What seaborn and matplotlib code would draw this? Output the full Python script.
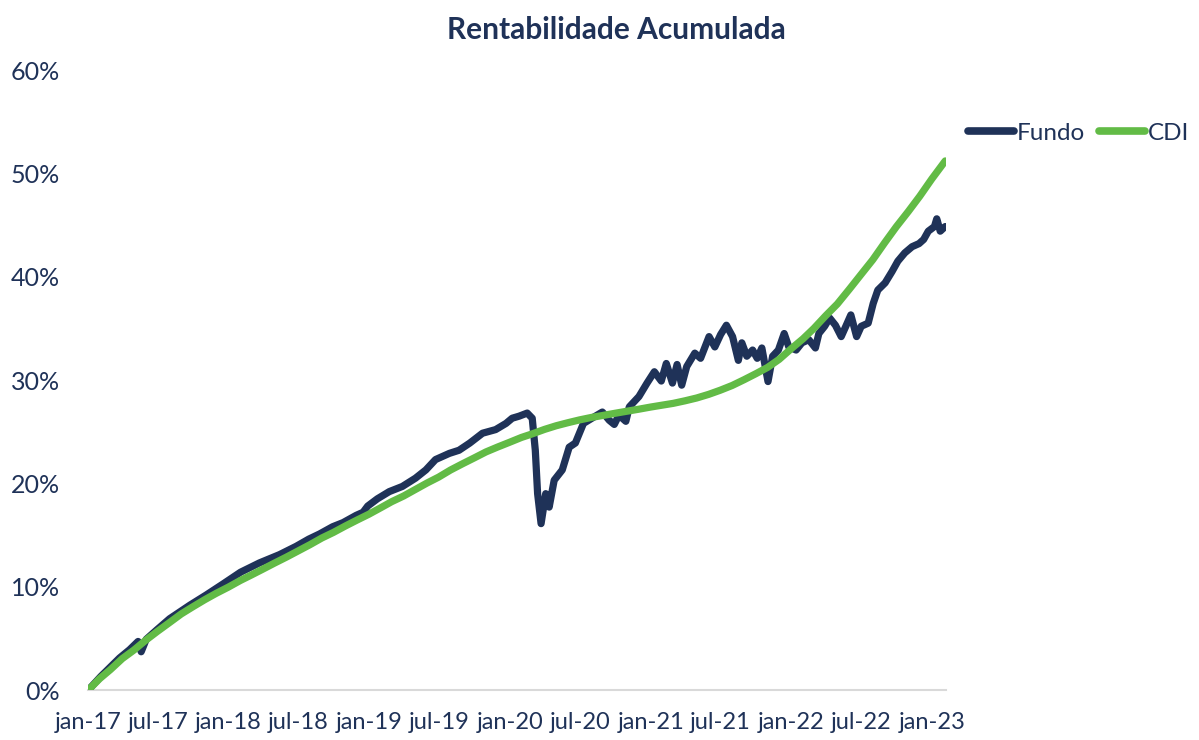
import matplotlib
matplotlib.use("Agg")
import matplotlib.pyplot as plt
from matplotlib.lines import Line2D
from matplotlib.ticker import FuncFormatter
import pandas as pd
import seaborn as sns

title = "Rentabilidade Acumulada"
series_names = ["Fundo", "CDI"]

fundo_dates = [
    "2017-01-02", "2017-02-03", "2017-03-24", "2017-04-19", "2017-05-11", "2017-05-19",
    "2017-06-01", "2017-06-28", "2017-08-01", "2017-09-22", "2017-11-04", "2017-12-19",
    "2018-02-01", "2018-03-22", "2018-05-13", "2018-06-25", "2018-07-28", "2018-08-25",
    "2018-09-28", "2018-10-25", "2018-11-28", "2018-12-16", "2018-12-28", "2019-01-22",
    "2019-02-22", "2019-03-28", "2019-05-01", "2019-05-28", "2019-06-22", "2019-07-28",
    "2019-08-22", "2019-09-19", "2019-10-22", "2019-11-25", "2019-12-22", "2020-01-07",
    "2020-01-25", "2020-02-15", "2020-02-28", "2020-03-07", "2020-03-13", "2020-03-22",
    "2020-04-03", "2020-04-12", "2020-04-25", "2020-05-16", "2020-06-03", "2020-06-19",
    "2020-07-10", "2020-08-01", "2020-08-28", "2020-09-15", "2020-09-28", "2020-10-10",
    "2020-10-28", "2020-11-06", "2020-12-01", "2020-12-22", "2021-01-10", "2021-01-28",
    "2021-02-10", "2021-02-26", "2021-03-10", "2021-03-22", "2021-04-04", "2021-04-25",
    "2021-05-10", "2021-06-01", "2021-06-16", "2021-07-01", "2021-07-16", "2021-08-01",
    "2021-08-16", "2021-08-25", "2021-09-07", "2021-09-22", "2021-10-04", "2021-10-16",
    "2021-11-01", "2021-11-13", "2021-11-28", "2021-12-13", "2021-12-25", "2022-01-13",
    "2022-01-28", "2022-02-15", "2022-03-04", "2022-03-13", "2022-03-28", "2022-04-10",
    "2022-04-25", "2022-05-10", "2022-05-22", "2022-06-04", "2022-06-19", "2022-07-01",
    "2022-07-19", "2022-08-01", "2022-08-13", "2022-09-01", "2022-09-19", "2022-10-04",
    "2022-10-22", "2022-11-10", "2022-11-28", "2022-12-10", "2022-12-22", "2023-01-07",
    "2023-01-13", "2023-01-22", "2023-02-04",
]
fundo_values = [
    0.0, 1.3, 3.1, 3.9, 4.7, 3.7,
    4.9, 5.8, 6.9, 8.2, 9.2, 10.3,
    11.4, 12.3, 13.1, 13.9, 14.6, 15.1,
    15.8, 16.2, 16.9, 17.2, 17.8, 18.5,
    19.2, 19.7, 20.5, 21.3, 22.3, 22.9,
    23.2, 23.9, 24.85, 25.2, 25.8, 26.3,
    26.5, 26.8, 26.3, 23.2, 19.0, 16.1,
    19.0, 17.7, 20.3, 21.3, 23.5, 23.9,
    25.8, 26.3, 26.9, 26.1, 25.7, 26.6,
    26.0, 27.4, 28.4, 29.7, 30.8, 29.9,
    31.6, 29.7, 31.5, 29.5, 31.3, 32.6,
    32.1, 34.2, 33.2, 34.4, 35.3, 34.2,
    31.9, 33.6, 32.3, 32.9, 32.1, 33.1,
    29.85, 32.3, 32.9, 34.5, 33.2, 32.9,
    33.6, 33.9, 33.1, 34.5, 35.2, 36.0,
    35.3, 34.2, 35.2, 36.3, 34.2, 35.2,
    35.5, 37.4, 38.7, 39.4, 40.5, 41.5,
    42.3, 42.9, 43.2, 43.6, 44.4, 44.85,
    45.6, 44.4, 44.85,
]

cdi_dates = [
    "2017-01-02", "2017-01-31", "2017-02-28", "2017-03-31", "2017-04-30", "2017-05-31",
    "2017-06-30", "2017-07-31", "2017-08-31", "2017-09-30", "2017-10-31", "2017-11-30",
    "2017-12-31", "2018-01-31", "2018-02-28", "2018-03-31", "2018-04-30", "2018-05-31",
    "2018-06-30", "2018-07-31", "2018-08-31", "2018-09-30", "2018-10-31", "2018-11-30",
    "2018-12-31", "2019-01-31", "2019-02-28", "2019-03-31", "2019-04-30", "2019-05-31",
    "2019-06-30", "2019-07-31", "2019-08-31", "2019-09-30", "2019-10-31", "2019-11-30",
    "2019-12-31", "2020-01-31", "2020-02-29", "2020-03-31", "2020-04-30", "2020-05-31",
    "2020-06-30", "2020-07-31", "2020-08-31", "2020-09-30", "2020-10-31", "2020-11-30",
    "2020-12-31", "2021-01-31", "2021-02-28", "2021-03-31", "2021-04-30", "2021-05-31",
    "2021-06-30", "2021-07-31", "2021-08-31", "2021-09-30", "2021-10-31", "2021-11-30",
    "2021-12-31", "2022-01-31", "2022-02-28", "2022-03-31", "2022-04-30", "2022-05-31",
    "2022-06-30", "2022-07-31", "2022-08-31", "2022-09-30", "2022-10-31", "2022-11-30",
    "2022-12-31", "2023-01-31", "2023-02-04",
]
cdi_values = [
    0.0, 1.09, 1.97, 3.04, 3.86, 4.82,
    5.67, 6.51, 7.36, 8.05, 8.74, 9.36,
    9.95, 10.59, 11.11, 11.70, 12.28, 12.86,
    13.45, 14.06, 14.71, 15.25, 15.87, 16.44,
    17.01, 17.64, 18.22, 18.77, 19.39, 20.03,
    20.60, 21.29, 21.89, 22.45, 23.04, 23.51,
    23.97, 24.44, 24.80, 25.22, 25.57, 25.87,
    26.14, 26.38, 26.58, 26.78, 26.98, 27.17,
    27.38, 27.57, 27.74, 27.99, 28.26, 28.61,
    29.01, 29.47, 30.03, 30.60, 31.22, 32.00,
    33.02, 33.99, 34.99, 36.23, 37.36, 38.78,
    40.19, 41.64, 43.29, 44.83, 46.30, 47.79,
    49.45, 51.0, 51.2,
]

tick_dates = ["2017-01-01", "2017-07-01", "2018-01-01", "2018-07-01", "2019-01-01",
              "2019-07-01", "2020-01-01", "2020-07-01", "2021-01-01", "2021-07-01",
              "2022-01-01", "2022-07-01", "2023-01-01"]
tick_labels = ["jan-17", "jul-17", "jan-18", "jul-18", "jan-19", "jul-19", "jan-20",
               "jul-20", "jan-21", "jul-21", "jan-22", "jul-22", "jan-23"]
y_ticks = [0, 10, 20, 30, 40, 50, 60]

navy = "#1F3258"
green = "#62BB46"
axis_gray = "#D9D9D9"

sns.set_style("white")
plt.rcParams["font.family"] = ["Lato", "DejaVu Sans"]

df_fundo = pd.DataFrame({"data": pd.to_datetime(fundo_dates), "valor": fundo_values, "serie": "Fundo"})
df_cdi = pd.DataFrame({"data": pd.to_datetime(cdi_dates), "valor": cdi_values, "serie": "CDI"})

fig = plt.figure(figsize=(11.99, 7.40), dpi=100)
ax = fig.add_axes([88 / 1199, 1 - 690 / 740, (946 - 88) / 1199, (690 - 70) / 740])

line_kw = dict(linewidth=5.2, solid_capstyle="round", solid_joinstyle="round")
sns.lineplot(data=df_fundo, x="data", y="valor", color=navy, ax=ax, legend=False, **line_kw)
sns.lineplot(data=df_cdi, x="data", y="valor", color=green, ax=ax, legend=False, **line_kw)

ax.set_xlim(pd.Timestamp("2017-01-01"), pd.Timestamp("2023-02-06"))
ax.set_ylim(0, 60)
ax.set_yticks(y_ticks)
ax.yaxis.set_major_formatter(FuncFormatter(lambda v, p: f"{v:.0f}%"))
ax.set_xticks(pd.to_datetime(tick_dates))
ax.set_xticklabels(tick_labels)

for s in ["top", "right", "left"]:
    ax.spines[s].set_visible(False)
ax.spines["bottom"].set_color(axis_gray)
ax.spines["bottom"].set_linewidth(1.5)
ax.spines["bottom"].set_zorder(0)
ax.tick_params(axis="x", length=8, width=1.5, color=axis_gray, direction="out",
               pad=8, labelsize=17, labelcolor=navy)
ax.tick_params(axis="y", length=0, pad=20, labelsize=18, labelcolor=navy)
ax.set_xlabel("")
ax.set_ylabel("")
ax.grid(False)

fig.text(616 / 1199, 1 - 30 / 740, title, ha="center", va="center",
         fontsize=21.5, fontweight="bold", color=navy)

handles = [Line2D([], [], color=navy, linewidth=5.5, solid_capstyle="round"),
           Line2D([], [], color=green, linewidth=5.5, solid_capstyle="round")]
fig.legend(handles, series_names, loc="center left", bbox_to_anchor=(968 / 1199, 1 - 133 / 740),
           ncol=2, frameon=False, fontsize=17.5, labelcolor=navy, handlelength=1.9,
           handletextpad=0.12, columnspacing=0.55, borderaxespad=0, borderpad=0)

fig.savefig("out.png", dpi=100, facecolor="white")
